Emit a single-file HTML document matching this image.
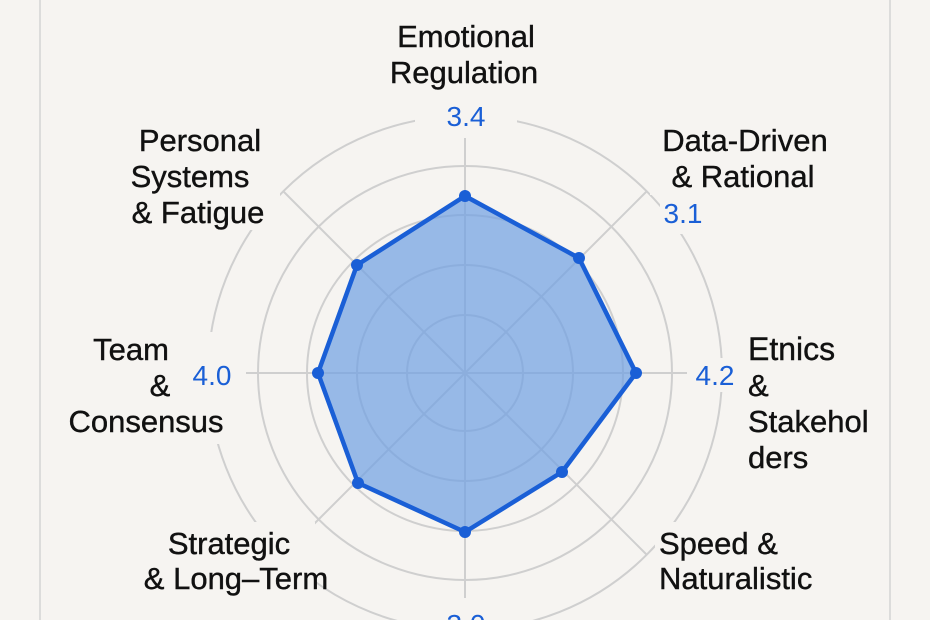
<!DOCTYPE html>
<html><head><meta charset="utf-8"><style>
html,body{margin:0;padding:0;background:#f6f4f1;}
svg{display:block}
text{font-family:"Liberation Sans",sans-serif;}
</style></head><body>
<svg width="930" height="620" viewBox="0 0 930 620">
<rect width="930" height="620" fill="#f6f4f1"/>
<line x1="40" y1="0" x2="40" y2="620" stroke="#d4d4d4" stroke-width="1.5"/>
<line x1="890" y1="0" x2="890" y2="620" stroke="#d4d4d4" stroke-width="1.5"/>
<g fill="none" stroke="#cfcfcf" stroke-width="2">
<circle cx="465" cy="373" r="58"/>
<circle cx="465" cy="373" r="108"/>
<circle cx="465" cy="373" r="158"/>
<circle cx="465" cy="373" r="207"/>
<circle cx="465" cy="373" r="257"/>
<line x1="465" y1="135" x2="465" y2="611"/>
<line x1="243" y1="373" x2="687" y2="373"/>
<line x1="283" y1="191" x2="647" y2="555"/>
<line x1="647" y1="191" x2="283" y2="555"/>
</g>
<g fill="#f6f4f1">
<rect x="415" y="96" width="102" height="42"/>
<rect x="660" y="198" width="50" height="36"/>
<rect x="180" y="358" width="66" height="34"/>
<rect x="688" y="358" width="58" height="34"/>
<rect x="415" y="598" width="102" height="22"/>
<rect x="100" y="125" width="180" height="105"/>
<rect x="650" y="125" width="190" height="70"/>
<rect x="150" y="522" width="165" height="85"/>
<rect x="655" y="522" width="175" height="85"/>
<rect x="60" y="332" width="170" height="112"/>
<rect x="745" y="332" width="130" height="142"/>
</g>
<polygon points="465,196 579,258 636,373 562,472 465,532 358,483 318,373 357,265" fill="#6f9fe3" fill-opacity="0.7" stroke="#1a5fd6" stroke-width="4.5" stroke-linejoin="round"/>
<g fill="#1a5fd6">
<circle cx="465" cy="196" r="6"/><circle cx="579" cy="258" r="6"/><circle cx="636" cy="373" r="6"/><circle cx="562" cy="472" r="6"/>
<circle cx="465" cy="532" r="6"/><circle cx="358" cy="483" r="6"/><circle cx="318" cy="373" r="6"/><circle cx="357" cy="265" r="6"/>
</g>
<g fill="#111" font-size="31" stroke="#111" stroke-width="0.4">
<text x="466" y="47" text-anchor="middle">Emotional</text>
<text x="464" y="83" text-anchor="middle">Regulation</text>
<text x="200" y="151" text-anchor="middle">Personal</text>
<text x="190" y="187" text-anchor="middle">Systems</text>
<text x="198" y="223" text-anchor="middle">&amp; Fatigue</text>
<text x="745" y="151" text-anchor="middle">Data-Driven</text>
<text x="743" y="187" text-anchor="middle">&amp; Rational</text>
<text x="131" y="360" text-anchor="middle">Team</text>
<text x="160" y="396" text-anchor="middle">&amp;</text>
<text x="146" y="432" text-anchor="middle">Consensus</text>
<text x="748" y="360" font-size="32">Etnics</text>
<text x="748" y="396">&amp;</text>
<text x="748" y="432">Stakehol</text>
<text x="748" y="468">ders</text>
<text x="229" y="554" text-anchor="middle">Strategic</text>
<text x="236" y="589" text-anchor="middle">&amp; Long–Term</text>
<text x="659" y="554">Speed &amp;</text>
<text x="659" y="589">Naturalistic</text>
</g>
<g fill="#1a5fd6" font-size="28">
<text x="466" y="126" text-anchor="middle">3.4</text>
<text x="683" y="223" text-anchor="middle">3.1</text>
<text x="212" y="385" text-anchor="middle">4.0</text>
<text x="715" y="385" text-anchor="middle">4.2</text>
<text x="466" y="634" text-anchor="middle">3.0</text>
</g>
</svg>
</body></html>
